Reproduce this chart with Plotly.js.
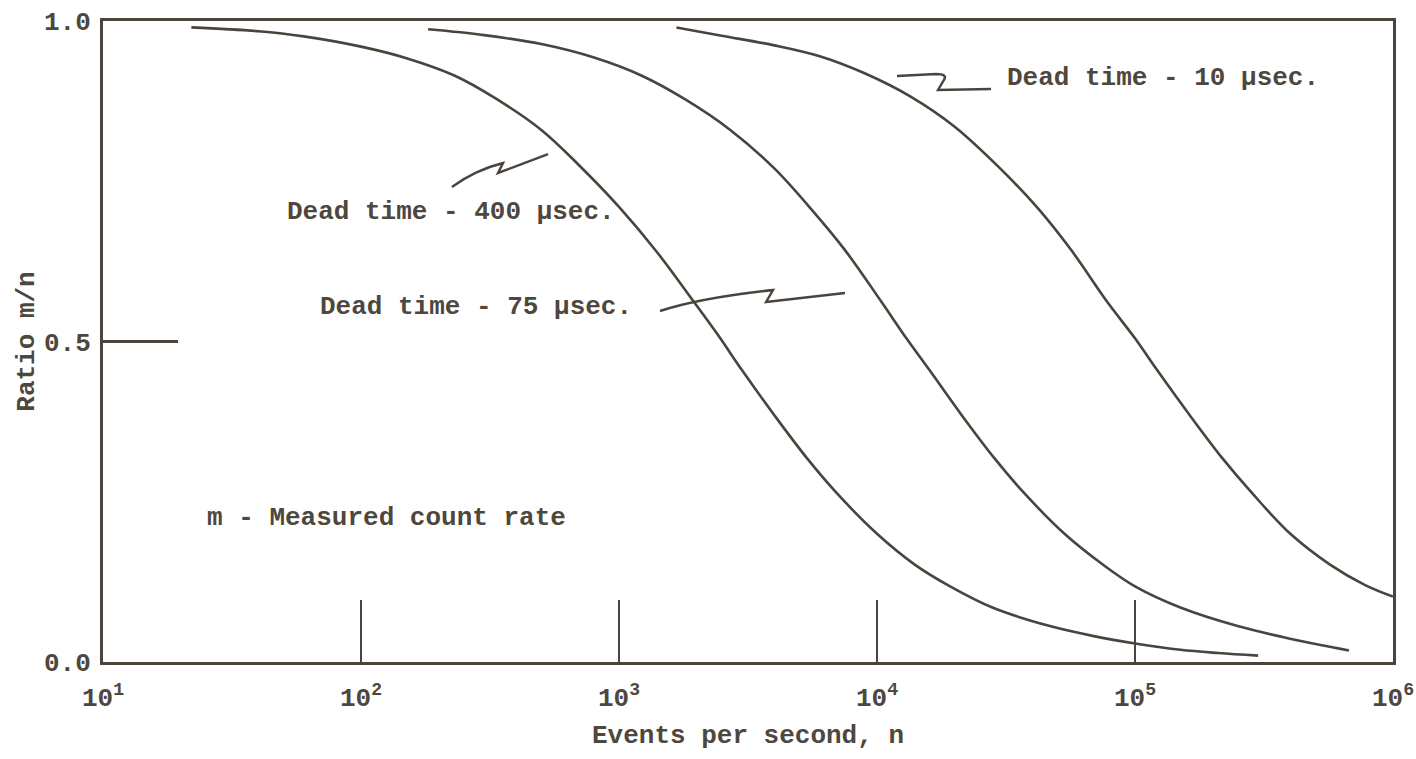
<!DOCTYPE html>
<html>
<head>
<meta charset="utf-8">
<script src="https://cdn.plot.ly/plotly-3.0.1.min.js"></script>
<style>
  html, body { margin: 0; padding: 0; background: #ffffff; }
  #chart { width: 1416px; height: 759px; }
</style>
</head>
<body>
<div id="chart"></div>
<script>
// Counting-loss curves: ratio of measured to true rate vs. true event rate
const n400 = [22, 40, 60, 100, 150, 230, 330, 500, 700, 1000, 1400, 1950, 2420, 3000, 4000, 5350, 7000, 10000, 14000, 19200, 28000, 46800, 70000, 100000, 150000, 210000, 300000];
const r400 = [0.99, 0.984, 0.976, 0.96, 0.942, 0.915, 0.88, 0.83, 0.775, 0.71, 0.64, 0.562, 0.51, 0.455, 0.385, 0.318, 0.263, 0.2, 0.152, 0.118, 0.085, 0.056, 0.04, 0.029, 0.019, 0.014, 0.01];

const n75 = [182, 300, 500, 800, 1220, 1800, 2700, 4000, 5600, 7500, 10400, 13000, 16000, 21300, 28500, 37300, 53300, 75000, 100000, 150000, 250000, 373000, 530000, 675000];
const r75 = [0.987, 0.978, 0.964, 0.943, 0.915, 0.878, 0.83, 0.77, 0.705, 0.643, 0.562, 0.505, 0.455, 0.385, 0.318, 0.263, 0.2, 0.152, 0.118, 0.085, 0.056, 0.039, 0.026, 0.018];

const n10 = [1670, 2500, 4000, 6000, 9000, 13500, 20000, 30000, 42000, 56500, 78000, 100000, 122000, 163000, 218000, 285000, 400000, 570000, 780000, 1000000];
const r10 = [0.99, 0.977, 0.962, 0.945, 0.918, 0.882, 0.835, 0.77, 0.708, 0.643, 0.562, 0.505, 0.455, 0.385, 0.318, 0.263, 0.2, 0.152, 0.12, 0.102];

const xTickVals = [10, 100, 1000, 10000, 100000, 1000000];
const xTickText = ['10<sup>1</sup>', '10<sup>2</sup>', '10<sup>3</sup>', '10<sup>4</sup>', '10<sup>5</sup>', '10<sup>6</sup>'];
const yTickVals = [0, 0.5, 1.0];
const yTickText = ['0.0', '0.5', '1.0'];

const ink = '#4a443c';
const textInk = '#4e473d';
const typeFont = { family: '"Liberation Mono", "Courier New", monospace', size: 26, color: textInk, weight: 'bold' };

function curve(x, y) {
  return {
    x: x, y: y, type: 'scatter', mode: 'lines',
    line: { color: ink, width: 2.6, shape: 'spline', smoothing: 1.0 },
    hoverinfo: 'skip', showlegend: false
  };
}

const traces = [curve(n400, r400), curve(n75, r75), curve(n10, r10)];

// hand-drawn leader strokes from labels to curves (paper coordinates)
const leader = (p) => ({ type: 'path', xref: 'paper', yref: 'paper', path: p,
  line: { color: ink, width: 2.4 } });

const layout = {
  width: 1416, height: 759,
  margin: { l: 103, r: 23, t: 21, b: 97 },
  paper_bgcolor: '#ffffff', plot_bgcolor: '#ffffff',
  font: typeFont,
  xaxis: {
    type: 'log', range: [1, 6],
    tickvals: xTickVals, ticktext: xTickText,
    ticks: 'inside', ticklen: 62, tickwidth: 2.4, tickcolor: ink,
    ticklabelstandoff: 10,
    showline: true, mirror: true, linewidth: 3, linecolor: ink,
    showgrid: false, zeroline: false,
    tickfont: typeFont,
    title: { text: 'Events per second, n', font: typeFont, standoff: 12 }
  },
  yaxis: {
    range: [0, 1],
    tickvals: yTickVals, ticktext: yTickText,
    ticks: 'inside', ticklen: 75, tickwidth: 2.4, tickcolor: ink,
    ticklabelstandoff: 4,
    showline: true, mirror: true, linewidth: 3, linecolor: ink,
    showgrid: false, zeroline: false,
    tickfont: typeFont,
    title: { text: 'Ratio m/n', font: typeFont, standoff: 2 }
  },
  annotations: [
    { text: 'Dead time - 10 µsec.', xref: 'paper', yref: 'paper', x: 0.699, y: 0.911,
      xanchor: 'left', yanchor: 'middle', showarrow: false, font: typeFont },
    { text: 'Dead time - 400 µsec.', xref: 'paper', yref: 'paper', x: 0.141, y: 0.702,
      xanchor: 'left', yanchor: 'middle', showarrow: false, font: typeFont },
    { text: 'Dead time - 75 µsec.', xref: 'paper', yref: 'paper', x: 0.1667, y: 0.554,
      xanchor: 'left', yanchor: 'middle', showarrow: false, font: typeFont },
    { text: 'm - Measured count rate', xref: 'paper', yref: 'paper', x: 0.079, y: 0.2246,
      xanchor: 'left', yanchor: 'middle', showarrow: false, font: typeFont }
  ],
  shapes: [
    leader('M 0.6155 0.9142 L 0.6458 0.9173 Q 0.6550 0.9173 0.6519 0.9080 L 0.6473 0.8924 L 0.6884 0.8939'),
    leader('M 0.2705 0.7410 Q 0.2884 0.7676 0.3101 0.7785 L 0.3062 0.7629 L 0.3450 0.7925'),
    leader('M 0.4318 0.5476 Q 0.4628 0.5679 0.5194 0.5803 L 0.5140 0.5616 L 0.5752 0.5757')
  ]
};

Plotly.newPlot('chart', traces, layout, { displayModeBar: false, staticPlot: true });
</script>
</body>
</html>
